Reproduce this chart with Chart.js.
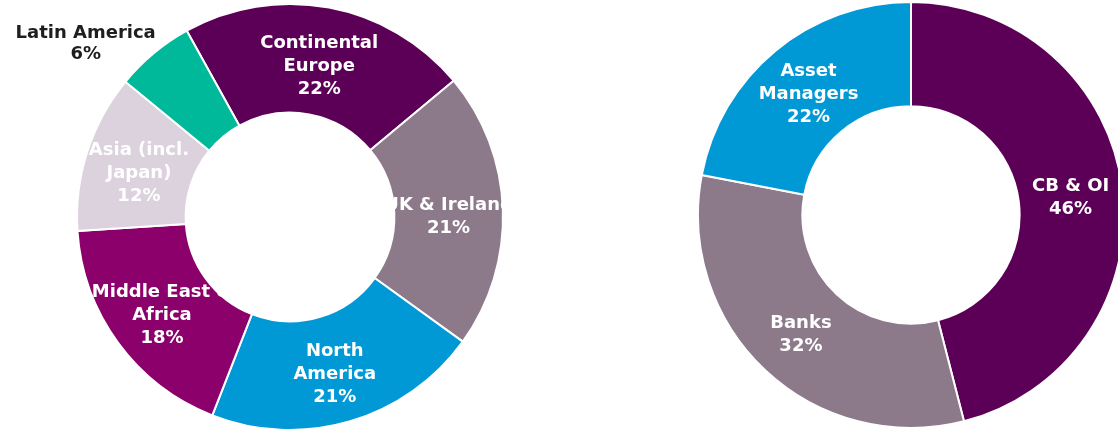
<!DOCTYPE html>
<html>
<head>
<meta charset="utf-8">
<script src="https://cdn.jsdelivr.net/npm/chart.js@4.4.1/dist/chart.umd.min.js"></script>
<style>
  html, body { margin: 0; padding: 0; background: #fff; width: 1118px; height: 431px; overflow: hidden; }
  #leftBox { position: absolute; left: 0; top: 0; width: 580px; height: 431px; }
  #rightBox { position: absolute; left: 697px; top: 1px; width: 428px; height: 428px; }
</style>
</head>
<body>
<div id="leftBox"><canvas id="chart1"></canvas></div>
<div id="rightBox"><canvas id="chart2"></canvas></div>
<script>
// left donut - regions
const regionLabels = [["Continental", "Europe"], ["UK & Ireland"], ["North", "America"], ["Middle East &", "Africa"], ["Asia (incl.", "Japan)"], ["Latin America"]];
const regionValues = [22, 21, 21, 18, 12, 6];
const regionColors = ["#5c0057", "#8c7a8b", "#0098d5", "#8b006b", "#dcd2de", "#00b99b"];

// right donut - investor type
const typeLabels = [["CB & OI"], ["Banks"], ["Asset", "Managers"]];
const typeValues = [46, 32, 22];
const typeColors = ["#5c0057", "#8c7a8b", "#0098d5"];

const FONT = "bold 18px 'DejaVu Sans', Verdana, sans-serif";

// draws the white labels inside the ring (and the one outside label)
const ringLabels = {
  id: "ringLabels",
  afterDatasetsDraw(chart, args, opts) {
    const ctx = chart.ctx;
    const meta = chart.getDatasetMeta(0);
    const values = chart.data.datasets[0].data;
    ctx.save();
    ctx.font = FONT;
    ctx.textAlign = "center";
    ctx.textBaseline = "middle";
    meta.data.forEach((arc, i) => {
      const lines = opts.names[i].concat([values[i] + "%"]);
      let px, py, color = "#ffffff", lh = 23;
      const out = opts.outside && opts.outside[i];
      if (out) {
        const mid = (arc.startAngle + arc.endAngle) / 2;
        px = arc.x + Math.cos(mid) * arc.outerRadius + out.dx;
        py = arc.y + Math.sin(mid) * arc.outerRadius + out.dy;
        color = "#1e1e1e";
        lh = 21;
      } else {
        const p = arc.tooltipPosition();
        px = p.x; py = p.y + (opts.shift || 0);
      }
      ctx.fillStyle = color;
      const top = py - (lines.length - 1) * lh / 2;
      lines.forEach((t, k) => ctx.fillText(t, px, top + k * lh + 1));
    });
    ctx.restore();
  }
};

new Chart(document.getElementById("chart1"), {
  type: "doughnut",
  data: {
    labels: regionLabels.map(l => l.join(" ")),
    datasets: [{ data: regionValues, backgroundColor: regionColors, borderColor: "#ffffff", borderWidth: 2 }]
  },
  options: {
    responsive: true,
    maintainAspectRatio: false,
    animation: false,
    cutout: "49%",
    rotation: -29,
    layout: { padding: { left: 76, right: 76, top: 3, bottom: 0 } },
    plugins: {
      legend: { display: false },
      tooltip: { enabled: false },
      ringLabels: { names: regionLabels, shift: 4, outside: { 5: { dx: -68, dy: -11 } } }
    }
  },
  plugins: [ringLabels]
});

new Chart(document.getElementById("chart2"), {
  type: "doughnut",
  data: {
    labels: typeLabels.map(l => l.join(" ")),
    datasets: [{ data: typeValues, backgroundColor: typeColors, borderColor: "#ffffff", borderWidth: 2 }]
  },
  options: {
    responsive: true,
    maintainAspectRatio: false,
    animation: false,
    cutout: "51%",
    rotation: 0,
    layout: { padding: 0 },
    plugins: {
      legend: { display: false },
      tooltip: { enabled: false },
      ringLabels: { names: typeLabels, shift: 2 }
    }
  },
  plugins: [ringLabels]
});
</script>
</body>
</html>
